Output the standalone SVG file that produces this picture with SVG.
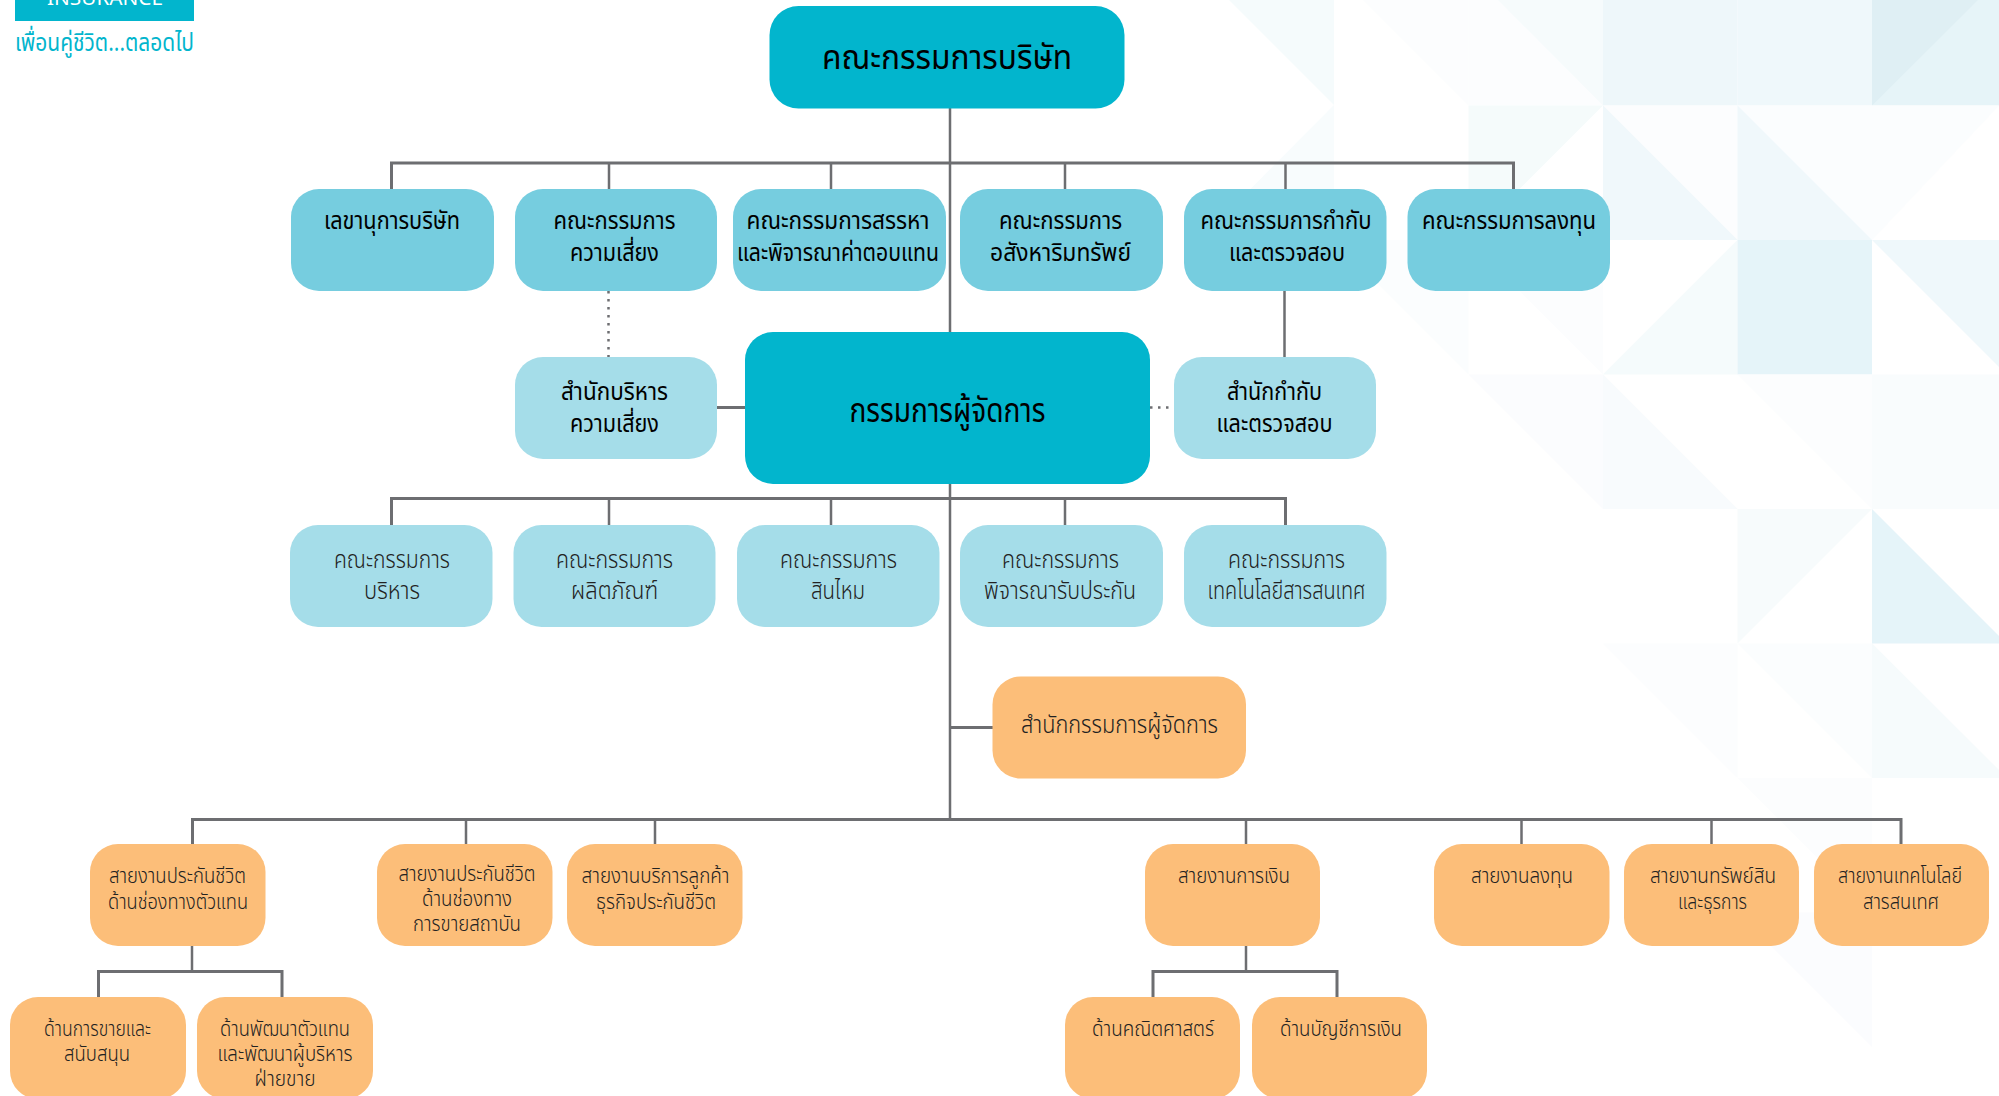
<svg xmlns="http://www.w3.org/2000/svg" width="1999" height="1096" viewBox="0 0 1999 1096">
<style>
text{font-family:"Noto Sans Thai","Noto Sans","Noto Sans Thai Looped",sans-serif;text-anchor:middle;transform:translateY(1px)}
.dk{fill:#02b5cd}.md{fill:#76cddf}.lt{fill:#a5dde9}.or{fill:#fcbe79}
.t0{font-size:33px;fill:#000}
.t1{font-size:24px;fill:#000}
.t2{font-size:24px;fill:#222;font-weight:300}
.t3{font-size:21px;fill:#222;font-weight:300}
.ln{fill:none;stroke:#6d6e71;stroke-width:2.5}
.bar{fill:none;stroke:#6d6e71;stroke-width:3}
.dot{fill:none;stroke:#6d6e71;stroke-width:2.5;stroke-dasharray:2.5 5.5}
</style>
<rect width="1999" height="1096" fill="#fff"/>
<g id="background">
<polygon points="1229,0 1334,0 1334,105" fill="#f5fbfc"/>
<polygon points="1334,105 1199.5,240 1334,240" fill="#f8fcfd"/>
<polygon points="1363,0 1468.5,0 1468.5,105.5" fill="#fcfdfe"/>
<polygon points="1468.5,0 1603,0 1603,105.5 1468.5,105.5" fill="#fcfdfe"/>
<polygon points="1498,0 1603,0 1603,105.5" fill="#f6fbfc"/>
<rect x="1603" y="0" width="134.5" height="105.5" fill="#eef7fa"/>
<rect x="1737.5" y="0" width="134.5" height="105.5" fill="#eff8fb"/>
<rect x="1872" y="0" width="127" height="105.5" fill="#e6f4f8"/>
<polygon points="1872,0 1978,0 1872,105.5" fill="#dfeff4"/>
<polygon points="1468.5,105.5 1603,105.5 1468.5,240" fill="#f5fbfb"/>
<rect x="1603" y="105.5" width="134.5" height="134.5" fill="#fcfdfe"/>
<polygon points="1603,105.5 1737.5,240 1603,240" fill="#f0f8fb"/>
<rect x="1737.5" y="105.5" width="134.5" height="134.5" fill="#fbfdfe"/>
<polygon points="1737.5,105.5 1872,240 1737.5,240" fill="#f0f8fb"/>
<polygon points="1872,105.5 1999,105.5 1872,240" fill="#fbfdfe"/>
<polygon points="1380,240 1468.5,240 1468.5,374.5 1334,240" fill="#fbfdfe"/>
<polygon points="1468.5,240 1603,374.5 1603,240" fill="#fcfdfe"/>
<polygon points="1603,374.5 1737.5,240 1737.5,374.5" fill="#f5fbfc"/>
<rect x="1737.5" y="240" width="134.5" height="134.5" fill="#e5f4f9"/>
<polygon points="1872,240 1999,240 1999,367" fill="#eff8fb"/>
<polygon points="1468.5,374.5 1603,374.5 1603,509" fill="#fbfcfe"/>
<polygon points="1603,374.5 1737.5,509 1603,509" fill="#f8fbfd"/>
<polygon points="1737.5,374.5 1872,374.5 1872,509" fill="#fcfdfe"/>
<rect x="1872" y="374.5" width="127" height="134.5" fill="#f9fcfd"/>
<polygon points="1737.5,509 1872,509 1737.5,643.5" fill="#f7fbfc"/>
<polygon points="1872,509 1999,636 1999,643.5 1872,643.5" fill="#e5f4f9"/>
<polygon points="1603,643.5 1737.5,643.5 1737.5,778" fill="#fcfdfe"/>
<polygon points="1737.5,643.5 1872,643.5 1872,778" fill="#fbfdfe"/>
<polygon points="1872,643.5 1999,770 1999,778 1872,778" fill="#f6fbfc"/>
<polygon points="1737.5,778 1872,778 1872,912.5" fill="#fcfdfe"/>
<polygon points="1737.5,912.5 1872,912.5 1872,1047" fill="#fbfcfe"/>
</g>
<g id="logo">
<rect x="15" y="-20" width="179" height="41" fill="#02b5cd"/>
<text x="105" y="4" font-size="19" fill="#fff" textLength="116" lengthAdjust="spacingAndGlyphs">INSURANCE</text>
<text x="104.500" y="50" font-size="25" fill="#02b5cd" textLength="179" lengthAdjust="spacingAndGlyphs">เพื่อนคู่ชีวิต...ตลอดไป</text>
</g>
<g id="connectors">
<path class="ln" d="M950 108V820"/>
<path class="bar" d="M391.500 189V163H1513.500V189"/>
<path class="ln" d="M609 163V189M831 163V189M1065 163V189M1285.500 163V189"/>
<path class="ln" d="M1284.500 291V357"/>
<path class="dot" d="M608.500 291V357"/>
<path class="dot" d="M1150 407.500H1174"/>
<path class="bar" d="M717 407.500H745"/>
<path class="bar" d="M391.500 525V498.500H1285.500V525"/>
<path class="ln" d="M609 499V525M831 499V525M1065 499V525"/>
<path class="bar" d="M950 727.500H993"/>
<path class="bar" d="M192.500 844V819.500H1901V844"/>
<path class="ln" d="M466 819.500V844M655 819.500V844M1246 819.500V844M1521.500 819.500V844M1711.500 819.500V844"/>
<path class="ln" d="M192 946V971"/>
<path class="bar" d="M98.500 997V971.500H282V997"/>
<path class="ln" d="M1246 946V971"/>
<path class="bar" d="M1153 997V971.500H1337V997"/>
</g>
<g id="n-board"><rect class="dk" x="769.500" y="6" width="355" height="102.500" rx="29"/><text class="t0" x="947" y="68" textLength="250" lengthAdjust="spacingAndGlyphs">คณะกรรมการบริษัท</text></g>
<g id="n-secretary"><rect class="md" x="291" y="189" width="203" height="102" rx="28"/><text class="t1" x="392" y="228" textLength="136" lengthAdjust="spacingAndGlyphs">เลขานุการบริษัท</text></g>
<g id="n-risk-committee"><rect class="md" x="515" y="189" width="202" height="102" rx="28"/><text class="t1" x="614.500" y="228" textLength="122" lengthAdjust="spacingAndGlyphs">คณะกรรมการ</text><text class="t1" x="614.500" y="260" textLength="89" lengthAdjust="spacingAndGlyphs">ความเสี่ยง</text></g>
<g id="n-nomination"><rect class="md" x="733" y="189" width="213" height="102" rx="28"/><text class="t1" x="838" y="228" textLength="183" lengthAdjust="spacingAndGlyphs">คณะกรรมการสรรหา</text><text class="t1" x="838" y="260" textLength="202" lengthAdjust="spacingAndGlyphs">และพิจารณาค่าตอบแทน</text></g>
<g id="n-property"><rect class="md" x="960" y="189" width="203" height="102" rx="28"/><text class="t1" x="1060.500" y="228" textLength="123" lengthAdjust="spacingAndGlyphs">คณะกรรมการ</text><text class="t1" x="1060.500" y="260" textLength="141" lengthAdjust="spacingAndGlyphs">อสังหาริมทรัพย์</text></g>
<g id="n-audit"><rect class="md" x="1184" y="189" width="202.500" height="102" rx="28"/><text class="t1" x="1286" y="228" textLength="171" lengthAdjust="spacingAndGlyphs">คณะกรรมการกำกับ</text><text class="t1" x="1287" y="260" textLength="116" lengthAdjust="spacingAndGlyphs">และตรวจสอบ</text></g>
<g id="n-invest-committee"><rect class="md" x="1407.500" y="189" width="202.500" height="102" rx="28"/><text class="t1" x="1509" y="228" textLength="174" lengthAdjust="spacingAndGlyphs">คณะกรรมการลงทุน</text></g>
<g id="n-risk-office"><rect class="lt" x="515" y="357" width="202" height="102" rx="28"/><text class="t1" x="614.500" y="399" textLength="107" lengthAdjust="spacingAndGlyphs">สำนักบริหาร</text><text class="t1" x="614.500" y="431" textLength="89" lengthAdjust="spacingAndGlyphs">ความเสี่ยง</text></g>
<g id="n-ceo"><rect class="dk" x="745" y="332" width="405" height="152" rx="28"/><text class="t0" x="947.500" y="421" textLength="196" lengthAdjust="spacingAndGlyphs">กรรมการผู้จัดการ</text></g>
<g id="n-audit-office"><rect class="lt" x="1174" y="357" width="202" height="102" rx="28"/><text class="t1" x="1274.500" y="399" textLength="95" lengthAdjust="spacingAndGlyphs">สำนักกำกับ</text><text class="t1" x="1274.500" y="431" textLength="116" lengthAdjust="spacingAndGlyphs">และตรวจสอบ</text></g>
<g id="n-executive"><rect class="lt" x="290" y="525" width="202.500" height="102" rx="28"/><text class="t2" x="392" y="567" textLength="116" lengthAdjust="spacingAndGlyphs">คณะกรรมการ</text><text class="t2" x="392" y="598" textLength="56" lengthAdjust="spacingAndGlyphs">บริหาร</text></g>
<g id="n-product"><rect class="lt" x="513.500" y="525" width="202" height="102" rx="28"/><text class="t2" x="614.500" y="567" textLength="117" lengthAdjust="spacingAndGlyphs">คณะกรรมการ</text><text class="t2" x="614.500" y="598" textLength="87" lengthAdjust="spacingAndGlyphs">ผลิตภัณฑ์</text></g>
<g id="n-claims"><rect class="lt" x="737" y="525" width="202.500" height="102" rx="28"/><text class="t2" x="838.500" y="567" textLength="117" lengthAdjust="spacingAndGlyphs">คณะกรรมการ</text><text class="t2" x="838" y="598" textLength="54" lengthAdjust="spacingAndGlyphs">สินไหม</text></g>
<g id="n-underwriting"><rect class="lt" x="960" y="525" width="203" height="102" rx="28"/><text class="t2" x="1060.500" y="567" textLength="117" lengthAdjust="spacingAndGlyphs">คณะกรรมการ</text><text class="t2" x="1060" y="598" textLength="152" lengthAdjust="spacingAndGlyphs">พิจารณารับประกัน</text></g>
<g id="n-it-committee"><rect class="lt" x="1184" y="525" width="202.500" height="102" rx="28"/><text class="t2" x="1286.500" y="567" textLength="117" lengthAdjust="spacingAndGlyphs">คณะกรรมการ</text><text class="t2" x="1286.500" y="598" textLength="158" lengthAdjust="spacingAndGlyphs">เทคโนโลยีสารสนเทศ</text></g>
<g id="n-ceo-office"><rect class="or" x="992.500" y="676.500" width="253.500" height="102" rx="28"/><text class="t2" x="1119.500" y="732" textLength="197" lengthAdjust="spacingAndGlyphs">สำนักกรรมการผู้จัดการ</text></g>
<g id="n-agency"><rect class="or" x="90" y="844" width="175.500" height="102" rx="28"/><text class="t3" x="177.500" y="882" textLength="137" lengthAdjust="spacingAndGlyphs">สายงานประกันชีวิต</text><text class="t3" x="178" y="908" textLength="140" lengthAdjust="spacingAndGlyphs">ด้านช่องทางตัวแทน</text></g>
<g id="n-institutional"><rect class="or" x="377" y="844" width="175.500" height="102" rx="28"/><text class="t3" x="467" y="880" textLength="137" lengthAdjust="spacingAndGlyphs">สายงานประกันชีวิต</text><text class="t3" x="467" y="905" textLength="90" lengthAdjust="spacingAndGlyphs">ด้านช่องทาง</text><text class="t3" x="467" y="930" textLength="108" lengthAdjust="spacingAndGlyphs">การขายสถาบัน</text></g>
<g id="n-customer"><rect class="or" x="567" y="844" width="175.500" height="102" rx="28"/><text class="t3" x="655.500" y="882" textLength="148" lengthAdjust="spacingAndGlyphs">สายงานบริการลูกค้า</text><text class="t3" x="656" y="908" textLength="120" lengthAdjust="spacingAndGlyphs">ธุรกิจประกันชีวิต</text></g>
<g id="n-finance"><rect class="or" x="1145" y="844" width="175" height="102" rx="28"/><text class="t3" x="1234" y="882" textLength="112" lengthAdjust="spacingAndGlyphs">สายงานการเงิน</text></g>
<g id="n-invest"><rect class="or" x="1434" y="844" width="175.500" height="102" rx="28"/><text class="t3" x="1522" y="882" textLength="102" lengthAdjust="spacingAndGlyphs">สายงานลงทุน</text></g>
<g id="n-admin"><rect class="or" x="1624" y="844" width="175" height="102" rx="28"/><text class="t3" x="1713" y="882" textLength="126" lengthAdjust="spacingAndGlyphs">สายงานทรัพย์สิน</text><text class="t3" x="1712.500" y="908" textLength="69" lengthAdjust="spacingAndGlyphs">และธุรการ</text></g>
<g id="n-it"><rect class="or" x="1814" y="844" width="175" height="102" rx="28"/><text class="t3" x="1900" y="882" textLength="124" lengthAdjust="spacingAndGlyphs">สายงานเทคโนโลยี</text><text class="t3" x="1901" y="908" textLength="76" lengthAdjust="spacingAndGlyphs">สารสนเทศ</text></g>
<g id="n-sales"><rect class="or" x="10" y="997" width="176" height="102" rx="28"/><text class="t3" x="97.500" y="1035" textLength="107" lengthAdjust="spacingAndGlyphs">ด้านการขายและ</text><text class="t3" x="97" y="1060" textLength="66" lengthAdjust="spacingAndGlyphs">สนับสนุน</text></g>
<g id="n-agent-dev"><rect class="or" x="197" y="997" width="176" height="102" rx="28"/><text class="t3" x="285" y="1035" textLength="130" lengthAdjust="spacingAndGlyphs">ด้านพัฒนาตัวแทน</text><text class="t3" x="285" y="1060" textLength="135" lengthAdjust="spacingAndGlyphs">และพัฒนาผู้บริหาร</text><text class="t3" x="285" y="1085" textLength="61" lengthAdjust="spacingAndGlyphs">ฝ่ายขาย</text></g>
<g id="n-actuary"><rect class="or" x="1065" y="997" width="175" height="102" rx="28"/><text class="t3" x="1153" y="1035" textLength="122" lengthAdjust="spacingAndGlyphs">ด้านคณิตศาสตร์</text></g>
<g id="n-accounting"><rect class="or" x="1252" y="997" width="175" height="102" rx="28"/><text class="t3" x="1341" y="1035" textLength="122" lengthAdjust="spacingAndGlyphs">ด้านบัญชีการเงิน</text></g>
</svg>
